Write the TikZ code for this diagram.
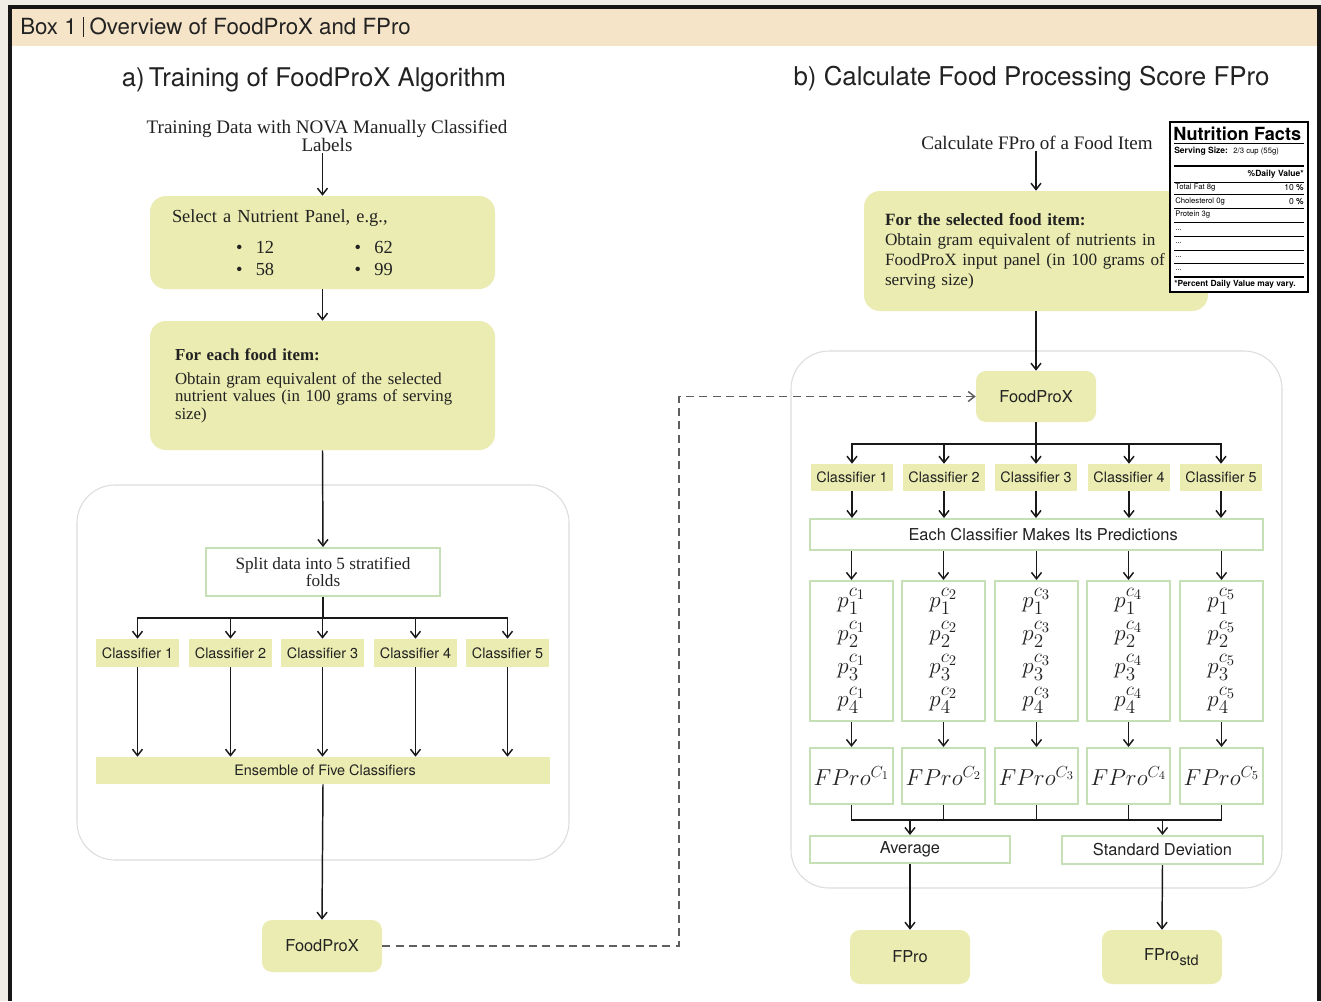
\documentclass[tikz,border=0pt]{standalone}
\usepackage{fontspec}
\setmainfont{Liberation Serif}
\setsansfont{TeX Gyre Heros}
\usetikzlibrary{arrows.meta,calc}
\DeclareMathSizes{19}{19}{14}{10.5}
\DeclareMathSizes{16.8}{16.8}{12.6}{9.5}
\definecolor{yfill}{RGB}{234,236,177}
\definecolor{gborder}{RGB}{197,224,180}
\definecolor{contc}{RGB}{221,221,221}
\definecolor{headc}{RGB}{245,228,200}
\definecolor{outerc}{RGB}{240,237,230}
\definecolor{framec}{RGB}{22,22,22}
\definecolor{dashc}{RGB}{95,95,95}
\definecolor{txt}{RGB}{34,34,34}
\definecolor{linec}{RGB}{25,25,25}
\begin{document}
\begin{tikzpicture}[x=0.75pt,y=-0.75pt,
  arr/.style={draw=linec, line width=1.1pt, -{Straight Barb[length=4.8pt,width=7.5pt]}},
  ln/.style={draw=linec, line width=1.1pt},
  ybox/.style={fill=yfill, draw=none, inner sep=0pt, text=txt},
  gbox/.style={fill=white, draw=gborder, line width=1.5pt, inner sep=0pt, text=txt},
  sz/.style 2 args={minimum width=#1*0.75pt, minimum height=#2*0.75pt},
  sfs/.style={font=\sffamily\fontsize{10.8}{13}\selectfont},
  sfm/.style={font=\sffamily\fontsize{12.3}{14}\selectfont},
  serif/.style={font=\rmfamily\fontsize{14.3}{13.5}\selectfont, text=txt},
  nfs/.style={font=\sffamily\fontsize{6.4}{7}\selectfont, inner sep=0pt, text=black},
  nfl/.style={draw=black, line width=0.5pt},
  cont/.style={draw=contc, line width=0.8pt, rounded corners=38*0.75pt},
]
\useasboundingbox (0,0) rectangle (1321,1001);
% background and frame
\fill[outerc] (0,0) rectangle (1321,1001);
\fill[framec] (8,5) rectangle (1321,1001);
\fill[white] (12,9) rectangle (1317,1001);
\fill[headc] (12,9) rectangle (1317,46);
\node[anchor=west, inner sep=0pt, text=txt, font=\sffamily\fontsize{16.7}{20}\selectfont] (head) at (20,27) {Box 1 \rule[-0.12em]{0.45pt}{0.9em} Overview of FoodProX and FPro};

% titles
\node[inner sep=0pt, text=txt, font=\sffamily\fontsize{19.3}{22}\selectfont] (ta) at (314,80) {a)\,Training of FoodProX Algorithm};
\node[inner sep=0pt, text=txt, font=\sffamily\fontsize{19.4}{22}\selectfont] (tb) at (1031.5,79) {b) Calculate Food Processing Score FPro};

% containers
\draw[cont] (77,485) rectangle (569,860);
\draw[cont] (791,351) rectangle (1282,888);

% ---------- left column ----------
\node[serif, align=center, inner sep=1pt] (trainlbl) at (327,136) {Training Data with NOVA Manually Classified\\Labels};

\node[ybox, rounded corners=16*0.75pt, minimum height=93*0.75pt, inner xsep=22*0.75pt, text width=301*0.75pt, align=left, font=\rmfamily\fontsize{13.8}{16.5}\selectfont] (box1) at (322.5,242.5)
 {Select a Nutrient Panel, e.g.,\\[6.5pt]
  \hspace*{48pt}\makebox[89pt][l]{\textbullet\hspace{10pt}12}\textbullet\hspace{10pt}62\\
  \hspace*{48pt}\makebox[89pt][l]{\textbullet\hspace{10pt}58}\textbullet\hspace{10pt}99};

\node[ybox, rounded corners=16*0.75pt, minimum height=129*0.75pt, inner xsep=25*0.75pt, text width=295*0.75pt, align=left, font=\rmfamily\fontsize{12.6}{12.9}\selectfont] (box2) at (322.5,385.5)
 {\textbf{For each food item:}\\[5.5pt]
  Obtain gram equivalent of the selected\\
  nutrient values (in 100 grams of serving\\
  size)};

\node[gbox, sz={234}{48}, align=center, font=\rmfamily\fontsize{12.9}{12.75}\selectfont] (split) at (323,572) {Split data into 5 stratified\\folds};

\foreach \i/\x in {1/137.5,2/230.5,3/322.5,4/415.5,5/507.5}
  \node[ybox, sz={83}{28}, sfs] (lc\i) at (\x,653) {Classifier \i};

\node[ybox, sz={454}{27}, sfs] (ens) at (323,770.5) {\hspace*{3pt}Ensemble of Five Classifiers};
\node[ybox, rounded corners=10*0.75pt, sz={120}{52}, sfm] (lfood) at (322,946) {FoodProX};

\coordinate (jL) at (323,618);
\draw[arr] (trainlbl.south -| box1.north) -- (box1.north);
\draw[arr] (box1.south) -- (box2.north);
\draw[arr] (box2.south) -- (split.north);
\draw[ln] (split.south) -- (jL);
\foreach \i in {1,...,5}{
  \draw[arr] (jL) -| (lc\i.north);
  \draw[arr] (lc\i.south) -- (lc\i.south |- ens.north);
}
\draw[arr] (ens.south) -- (lfood.north);

% ---------- right column ----------
\node[serif, inner sep=1pt] (calclbl) at (1037,143) {Calculate FPro of a Food Item};

\node[ybox, rounded corners=16*0.75pt, minimum height=120*0.75pt, inner xsep=21*0.75pt, text width=302*0.75pt, align=left, font=\rmfamily\fontsize{12.9}{15}\selectfont] (rbox1) at (1036,251)
 {\textbf{For the selected food item:}\\
  Obtain gram equivalent of nutrients in\\
  FoodProX input panel (in 100 grams of\\
  serving size)};

\node[ybox, rounded corners=10*0.75pt, sz={120}{51}, sfm] (rfood) at (1036,396.5) {FoodProX};

\foreach \i/\x in {1/852,2/944,3/1036,4/1129,5/1221}
  \node[ybox, sz={82}{27}, sfs] (rc\i) at (\x,477.5) {Classifier \i};

\node[gbox, sz={453}{31}, sfm] (each) at (1036.5,534.5) {\hspace*{10pt}Each Classifier Makes Its Predictions};

\foreach \i/\x in {1/851.5,2/943.5,3/1036.5,4/1128.5,5/1221.5}{
  \node[gbox, sz={83}{140}, align=center, font={\fontsize{19}{24.75}\selectfont\lineskiplimit=-40pt\lineskip=0pt}] (pb\i) at (\x,651)
   {$p_1^{c_{\i}}$\\$p_2^{c_{\i}}$\\$p_3^{c_{\i}}$\\$p_4^{c_{\i}}$};
  \node[gbox, sz={83}{56}, font=\fontsize{16.8}{20}\selectfont] (fb\i) at (\x,776) {$FPro^{C_{\i}}$};
}

\node[gbox, sz={200}{27}, sfm] (avg) at (910,849.5) {Average};
\node[gbox, sz={201}{28}, sfm] (sd) at (1162.5,850) {Standard Deviation};
\node[ybox, rounded corners=10*0.75pt, sz={120}{54}, sfm] (fpro) at (910,957) {FPro};
\node[ybox, rounded corners=10*0.75pt, sz={120}{54}, sfm] (fprostd) at (1162,957) {\hspace*{14pt}FPro\raisebox{-3.5pt}{\fontsize{10.8}{12}\selectfont std}};

\coordinate (jR) at (1036,444);
\coordinate (jB) at (1036,820);
\draw[arr] (calclbl.south -| rbox1.north) -- (rbox1.north);
\draw[arr] (rbox1.south) -- (rfood.north);
\draw[ln] (rfood.south) -- (jR);
\foreach \i in {1,...,5}{
  \draw[arr] (jR) -| (rc\i.north);
  \draw[arr] (rc\i.south) -- (rc\i.south |- each.north);
  \draw[arr] (pb\i.north |- each.south) -- (pb\i.north);
  \draw[arr] (pb\i.south) -- (fb\i.north);
}
\draw[ln] (fb1.south) |- (jB) -| (fb5.south);
\foreach \i in {2,3,4} \draw[ln] (fb\i.south) -- (fb\i.south |- jB);
\draw[arr] (avg.north |- jB) -- (avg.north);
\draw[arr] (sd.north |- jB) -- (sd.north);
\draw[arr] (avg.south) -- (fpro.north);
\draw[arr] (sd.south) -- (fprostd.north);

% dashed link
\coordinate (dashx) at (679,946);
\draw[draw=dashc, line width=1.1pt, dash pattern=on 6pt off 4pt, -{Straight Barb[length=4.8pt,width=7.5pt]}]
  (lfood.east) -- (lfood.east -| dashx) |- (rfood.west);

% nutrition facts label
\draw[black, line width=0.8pt, fill=white] (1170,122) rectangle (1308,292);
\node[anchor=west, inner sep=0pt, font=\sffamily\bfseries\fontsize{13.6}{14}\selectfont, text=black] (nft) at (1173,134) {Nutrition Facts};
\draw[nfl, line width=0.7pt] (1174,143.5) -- (1304,143.5);
\node[nfs, anchor=west] (nfs1) at (1174,151) {\textbf{Serving Size:}\hspace{4pt}{\fontsize{5.8}{6}\selectfont 2/3 cup (55g)}};
\draw[nfl, line width=1.6pt] (1174,166) -- (1304,166);
\node[nfs, anchor=east] (nfs2) at (1304,174.5) {\textbf{\%Daily Value*}};
\draw[nfl] (1174,182) -- (1304,182);
\node[nfs, anchor=west, font=\sffamily\fontsize{5.8}{6}\selectfont] (nfs3) at (1175,188) {Total Fat 8g};
\node[nfs, anchor=east] (nfs4) at (1304,188) {10 \textbf{\%}};
\draw[nfl] (1174,194.5) -- (1304,194.5);
\node[nfs, anchor=west, font=\sffamily\fontsize{5.8}{6}\selectfont] (nfs5) at (1175,201.5) {Cholesterol 0g};
\node[nfs, anchor=east] (nfs6) at (1304,201.5) {0 \textbf{\%}};
\draw[nfl] (1174,208) -- (1304,208);
\node[nfs, anchor=west, font=\sffamily\fontsize{5.8}{6}\selectfont] (nfs7) at (1175,215) {Protein 3g};
\draw[nfl] (1174,222) -- (1304,222);
\foreach \k/\yy in {1/230,2/243.5,3/257,4/270}
  \node[nfs, anchor=west, font=\sffamily\fontsize{5.8}{6}\selectfont] (dots\k) at (1175,\yy) {...};
\draw[nfl] (1174,236.5) -- (1304,236.5);
\draw[nfl] (1174,250) -- (1304,250);
\draw[nfl] (1174,263.5) -- (1304,263.5);
\draw[nfl, line width=0.9pt] (1174,277) -- (1304,277);
\node[nfs, anchor=west, font=\sffamily\bfseries\fontsize{6.3}{7}\selectfont] (nfs8) at (1174,284.5) {*Percent Daily Value may vary.};
\end{tikzpicture}
\end{document}
